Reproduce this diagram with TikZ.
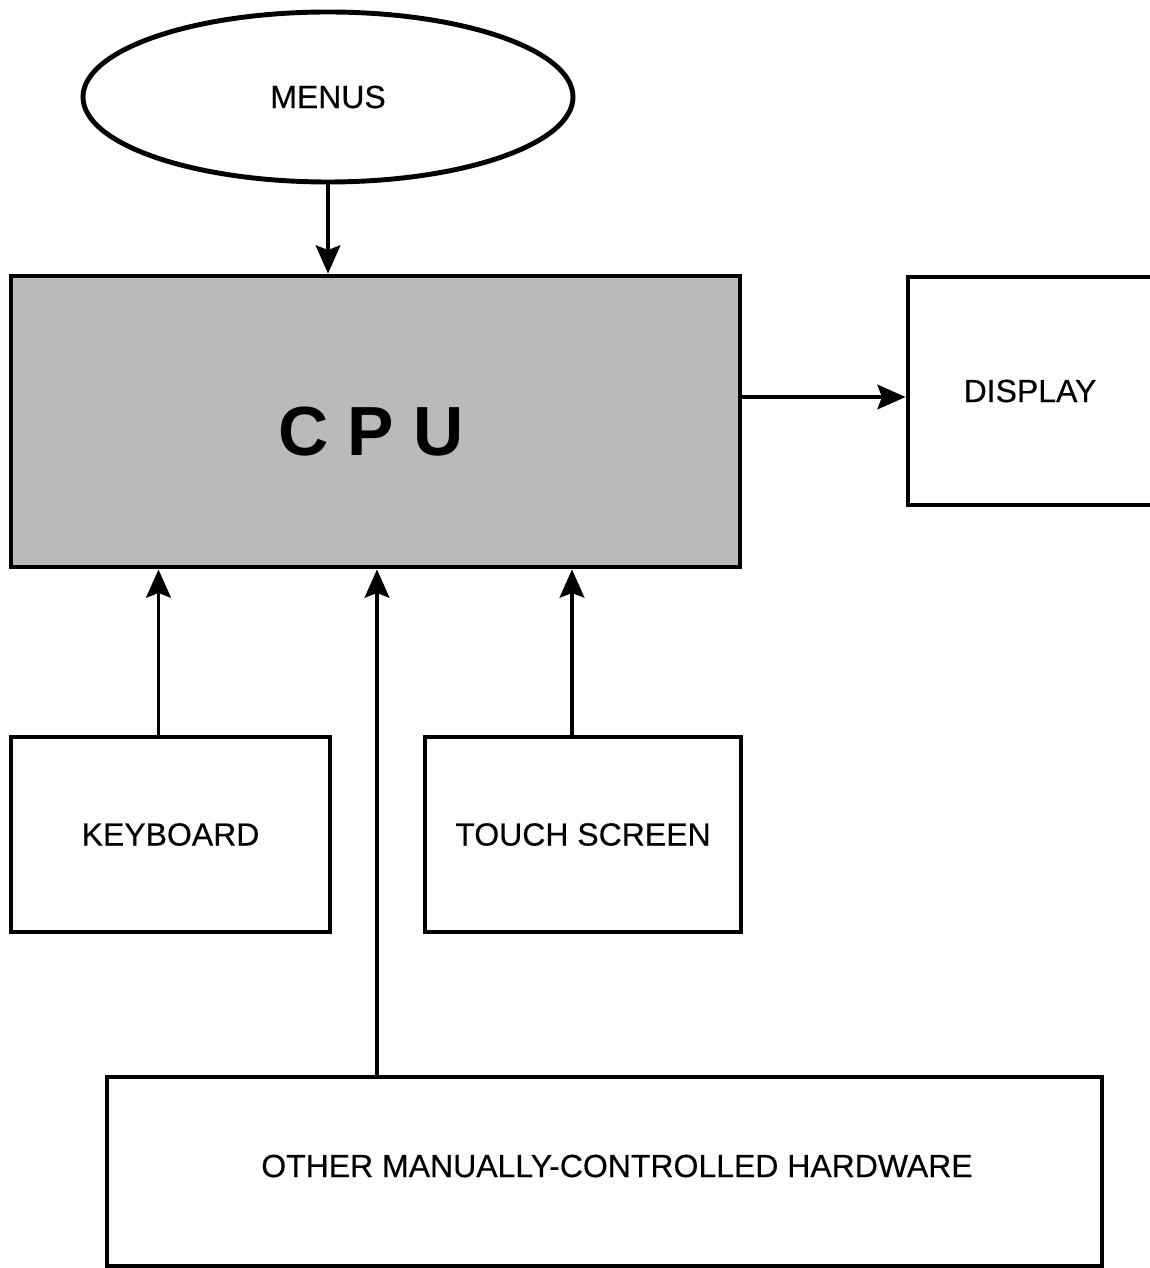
\documentclass[tikz,border=0pt]{standalone}
\usepackage{fontspec}
\setmainfont{Liberation Sans}
\newfontfamily\labelfont[FakeBold=0.35]{Liberation Sans}
\usetikzlibrary{shapes.geometric,arrows.meta}
\tikzset{
  boxline/.style={draw=black,line width=1.4pt},
  blk/.style={boxline,rectangle,inner sep=0pt},
  lbl/.style={font=\labelfont\fontsize{9.1}{11}\selectfont,inner sep=0pt},
  arr/.style={line width=1.1pt,-{Stealth[length=8pt,width=7pt,inset=1.3pt]}}
}
\begin{document}
\begin{tikzpicture}
\useasboundingbox (0,0) rectangle (11.49,-12.68);
% nodes
\node[boxline,ellipse,minimum width=4.90cm,minimum height=1.70cm,inner sep=0pt,lbl] (menus) at (3.28,-0.97) {MENUS};
\node[blk,fill=black!27,minimum width=7.29cm,minimum height=2.91cm] (cpu) at (3.755,-4.215) {};
\node[font=\fontsize{19.8}{22}\selectfont\bfseries,inner sep=0pt] (cputext) at (3.71,-4.32) {C P U};
\node[blk,minimum width=2.92cm,minimum height=2.28cm] (display) at (10.54,-3.91) {};
\node[lbl] (displaytext) at (10.30,-3.91) {DISPLAY};
\node[blk,minimum width=3.19cm,minimum height=1.95cm,lbl] (keyboard) at (1.705,-8.345) {KEYBOARD};
\node[blk,minimum width=3.16cm,minimum height=1.95cm,lbl] (touch) at (5.83,-8.345) {TOUCH SCREEN};
\node[blk,minimum width=9.95cm,minimum height=1.89cm] (other) at (6.045,-11.715) {};
\node[lbl] (othertext) at (6.17,-11.66) {OTHER MANUALLY-CONTROLLED HARDWARE};
% connectors
\draw[arr] (menus.south) -- (menus.south |- cpu.north);
\draw[arr] ([yshift=-0.06cm]cpu.east |- display.west) -- ([yshift=-0.06cm]display.west);
\coordinate (kb) at ([xshift=-1.2mm]keyboard.north);
\draw[arr] (kb) -- (kb |- cpu.south);
\coordinate (ts) at ([xshift=-1.1mm]touch.north);
\draw[arr] (ts) -- (ts |- cpu.south);
\coordinate (ot) at ([xshift=-22.75mm]other.north);
\draw[arr] (ot) -- (ot |- cpu.south);
\end{tikzpicture}
\end{document}
